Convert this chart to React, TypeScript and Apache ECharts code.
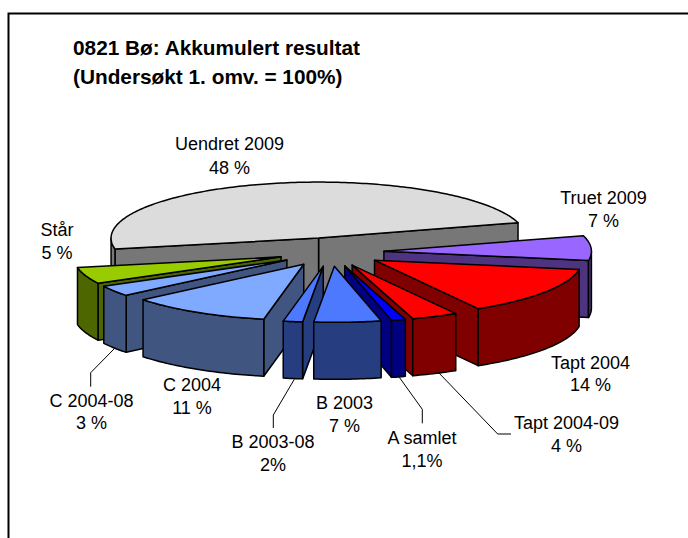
import React, { useEffect, useRef } from "react";
import * as echarts from "echarts";

const titleLines = ["0821 Bø: Akkumulert resultat", "(Undersøkt 1. omv. = 100%)"];

// clockwise from the start angle; shares
const categories = ["Uendret 2009", "Truet 2009", "Tapt 2004", "Tapt 2004-09", "A samlet", "B 2003", "B 2003-08", "C 2004", "C 2004-08", "Står"];
const shares = [48.6, 7.1, 14, 3.6, 1.1, 5.2, 1.5, 11, 3.1, 4.7];
const valueLabels = ["48 %", "7 %", "14 %", "4 %", "1,1%", "7 %", "2%", "11 %", "3 %", "5 %"];

const topColors = ["#DCDCDC", "#9966FF", "#FF0000", "#FF0000", "#0000FF", "#4D79FF", "#4D79FF", "#80AAFF", "#80AAFF", "#99CC00"];
const wallColors = ["#777777", "#4D3380", "#800000", "#800000", "#000080", "#263D80", "#263D80", "#40557F", "#40557F", "#4D6600"];

// label anchors [centre x, first line y, second line y]
const labelAnchors = [
  [229.5, 144, 168], [603.5, 198, 221], [590.5, 363, 385], [566.5, 423, 446], [422, 438, 461],
  [344.5, 403, 426], [273, 442, 465], [192, 385, 408], [91.5, 401, 423], [57, 230, 253],
];
const leaderLines = [
  [[114, 349], [90.7, 372.7], [90.7, 386.7]],
  [[294.3, 379.3], [273.3, 415], [273.3, 428]],
  [[399.3, 377.3], [422.3, 409.3], [422.3, 423.3]],
  [[438.3, 372.3], [497.7, 434], [511, 434]],
];

const PIE = { cx: 331, cy: 252, rx: 207.5, ry: 56, depth: 57, explode: 53, startAngle: 16 };
const LABEL_FONT = '18px "Liberation Sans", Arial, sans-serif';
const rad = (d: number) => (d * Math.PI) / 180;

const total = shares.reduce((a, b) => a + b, 0);
type Slice = { i: number; lo: number; hi: number; mid: number };
const slices: Slice[] = [];
{
  let hi = PIE.startAngle + (shares[0] / total) * 360;
  shares.forEach((s, i) => {
    const lo = hi - (s / total) * 360;
    slices.push({ i, lo, hi, mid: (lo + hi) / 2 });
    hi = lo;
  });
}
const drawOrder = [...slices].sort((a, b) => Math.sin(rad(b.mid)) - Math.sin(rad(a.mid)));

function buildSlice(s: Slice) {
  const ax = PIE.cx + PIE.explode * Math.cos(rad(s.mid));
  const ay = PIE.cy - (PIE.explode * PIE.ry * Math.sin(rad(s.mid))) / PIE.rx;
  const pt = (deg: number): number[] => [ax + PIE.rx * Math.cos(rad(deg)), ay - PIE.ry * Math.sin(rad(deg))];
  const arc = (from: number, to: number) => {
    const pts: number[][] = [];
    const n = Math.max(2, Math.ceil(to - from));
    for (let k = 0; k <= n; k++) pts.push(pt(from + ((to - from) * k) / n));
    return pts;
  };
  const drop = (p: number[]) => [p[0], p[1] + PIE.depth];
  const wall = (top: number[][]) => ({
    type: "polygon",
    shape: { points: [...top, ...top.map(drop).reverse()] },
    style: { fill: wallColors[s.i], stroke: "#000", lineWidth: 1.5, lineJoin: "round" },
  });
  const children: any[] = [];
  const apex = [ax, ay];
  if (Math.cos(rad(s.lo)) > 0) children.push(wall([apex, pt(s.lo)]));
  if (Math.cos(rad(s.hi)) < 0) children.push(wall([apex, pt(s.hi)]));
  for (const [a, b] of [[-180, 0], [180, 360]]) {
    const from = Math.max(a, s.lo);
    const to = Math.min(b, s.hi);
    if (to > from) children.push(wall(arc(from, to)));
  }
  children.push({
    type: "polygon",
    shape: { points: [apex, ...arc(s.lo, s.hi)] },
    style: { fill: topColors[s.i], stroke: "#000", lineWidth: 1.5, lineJoin: "round" },
  });
  return { type: "group", children };
}

export default function App() {
  const ref = useRef<HTMLDivElement>(null);
  useEffect(() => {
    document.body.style.margin = "0";
    document.body.style.overflow = "hidden";
    const chart = echarts.init(ref.current!, null, { renderer: "svg" });
    chart.setOption({
      animation: false,
      backgroundColor: "#fff",
      title: {
        text: titleLines.join("\n"),
        left: 73,
        top: 33,
        padding: 0,
        textStyle: { fontFamily: '"Liberation Sans", Arial, sans-serif', fontSize: 20.8, fontWeight: "bold", color: "#000", lineHeight: 29 },
      },
      graphic: [
        { type: "polyline", silent: true, shape: { points: [[8.5, 538], [8.5, 13.5], [688, 13.5]] }, style: { stroke: "#000", lineWidth: 2, fill: "none" } },
      ],
      series: [
        {
          type: "custom",
          coordinateSystem: "none",
          silent: true,
          data: drawOrder.map((s) => [s.i]),
          renderItem: (params: any) => buildSlice(drawOrder[params.dataIndex]),
        },
        {
          type: "custom",
          coordinateSystem: "none",
          silent: true,
          z: 3,
          data: categories.map((_, i) => [i]),
          renderItem: (params: any) => {
            const i = params.dataIndex;
            const [x, y1, y2] = labelAnchors[i];
            const text = (t: string, y: number) => ({
              type: "text",
              style: { text: t, x, y, align: "center", verticalAlign: "middle", font: LABEL_FONT, fill: "#000" },
            });
            return { type: "group", children: [text(categories[i], y1), text(valueLabels[i], y2)] };
          },
        },
        {
          type: "custom",
          coordinateSystem: "none",
          silent: true,
          z: 3,
          data: leaderLines.map((_, i) => [i]),
          renderItem: (params: any) => ({
            type: "polyline",
            shape: { points: leaderLines[params.dataIndex] },
            style: { stroke: "#000", lineWidth: 1, fill: "none" },
          }),
        },
      ],
    });
    return () => chart.dispose();
  }, []);
  return <div ref={ref} style={{ position: "fixed", left: 0, top: 0, width: 688, height: 538 }} />;
}
